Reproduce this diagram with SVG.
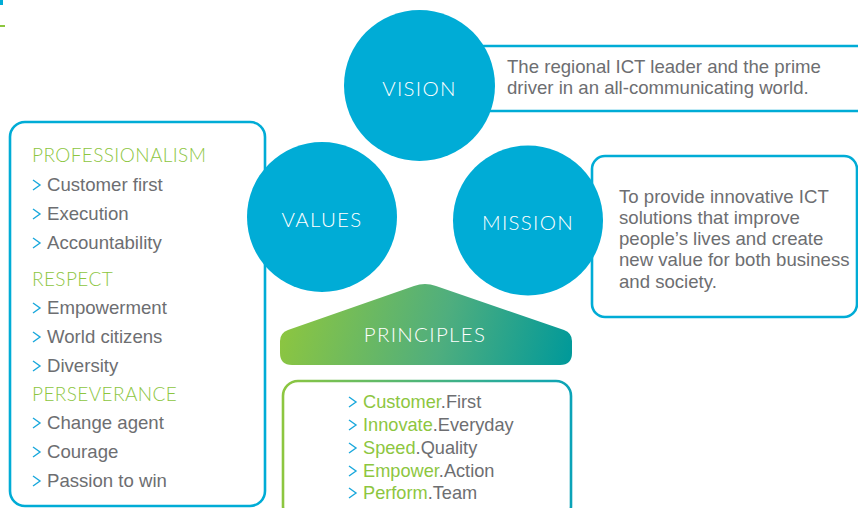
<svg xmlns="http://www.w3.org/2000/svg" width="858" height="508" viewBox="0 0 858 508">
  <defs>
    <linearGradient id="roofGrad" gradientUnits="userSpaceOnUse" x1="285" y1="300" x2="570" y2="368">
      <stop offset="0" stop-color="#8dc63f"/>
      <stop offset="0.55" stop-color="#4fae7e"/>
      <stop offset="1" stop-color="#00999a"/>
    </linearGradient>
    <linearGradient id="frameGrad" gradientUnits="userSpaceOnUse" x1="282" y1="0" x2="572" y2="0">
      <stop offset="0" stop-color="#8dc63f"/>
      <stop offset="1" stop-color="#0aa3b8"/>
    </linearGradient>
    <style>
      .circle { fill: #00acd6; }
      .frame { fill: #ffffff; stroke: #00acd6; stroke-width: 2.6; }
      .label { font-family: Lato, "Open Sans", sans-serif; font-weight: 300; font-size: 20.5px; fill: #ffffff; text-anchor: middle; letter-spacing: 1.3px; }
      .body { font-family: "Liberation Sans", Arial, sans-serif; font-size: 18.6px; fill: #6d6e71; }
      .list { font-size: 18.2px; }
      .head { font-family: Lato, "Open Sans", sans-serif; font-weight: 300; font-size: 19px; fill: #8dc63f; letter-spacing: 0.4px; }
      .chev { fill: none; stroke: #1aa8dc; stroke-width: 1.4; }
      .green { fill: #8dc63f; }
    </style>
    <path id="chevron" class="chev" d="M0,-11 L7,-6 L0,-1"/>
  </defs>

  <!-- corner marks -->
  <rect x="0" y="0" width="3" height="5" fill="#00acd6"/>
  <rect x="0" y="25" width="5" height="2" fill="#8dc63f"/>

  <!-- description frames (drawn under the circles) -->
  <g id="vision-text">
    <rect class="frame" x="470" y="46" width="420" height="65" rx="12"/>
    <text class="body" x="507" y="73">The regional ICT leader and the prime</text>
    <text class="body" x="507" y="94">driver in an all-communicating world.</text>
  </g>

  <g id="mission-text">
    <rect class="frame" x="592" y="156" width="265" height="161" rx="13"/>
    <text class="body" x="619" y="203">To provide innovative ICT</text>
    <text class="body" x="619" y="224">solutions that improve</text>
    <text class="body" x="619" y="245">people’s lives and create</text>
    <text class="body" x="619" y="266">new value for both business</text>
    <text class="body" x="619" y="288">and society.</text>
  </g>

  <g id="values-list">
    <rect class="frame" x="10" y="122" width="255" height="384" rx="15"/>
    <text class="head" x="32" y="162">PROFESSIONALISM</text>
    <use href="#chevron" x="33" y="191"/><text class="body" x="47" y="191">Customer first</text>
    <use href="#chevron" x="33" y="220"/><text class="body" x="47" y="220">Execution</text>
    <use href="#chevron" x="33" y="249"/><text class="body" x="47" y="249">Accountability</text>
    <text class="head" x="32" y="286">RESPECT</text>
    <use href="#chevron" x="33" y="314"/><text class="body" x="47" y="314">Empowerment</text>
    <use href="#chevron" x="33" y="343"/><text class="body" x="47" y="343">World citizens</text>
    <use href="#chevron" x="33" y="372"/><text class="body" x="47" y="372">Diversity</text>
    <text class="head" x="32" y="401">PERSEVERANCE</text>
    <use href="#chevron" x="33" y="429"/><text class="body" x="47" y="429">Change agent</text>
    <use href="#chevron" x="33" y="458"/><text class="body" x="47" y="458">Courage</text>
    <use href="#chevron" x="33" y="487"/><text class="body" x="47" y="487">Passion to win</text>
  </g>

  <!-- circles -->
  <g id="vision">
    <circle class="circle" cx="419.5" cy="85.5" r="75.5"/>
    <text class="label" x="419.5" y="96">VISION</text>
  </g>
  <g id="values">
    <circle class="circle" cx="322" cy="217" r="75"/>
    <text class="label" x="322" y="227">VALUES</text>
  </g>
  <g id="mission">
    <circle class="circle" cx="528" cy="220.5" r="75"/>
    <text class="label" x="528" y="230">MISSION</text>
  </g>

  <!-- principles roof and list -->
  <g id="principles">
    <path fill="url(#roofGrad)" d="M292,365 Q280,365 280,353 L280,341 Q280,333 288,330 L414,286 Q425,282 436,286 L564,330 Q572,333 572,341 L572,353 Q572,365 560,365 Z"/>
    <text class="label" x="425" y="342">PRINCIPLES</text>
  </g>

  <g id="principles-list">
    <rect x="283" y="381" width="288" height="140" rx="15" fill="#ffffff" stroke="url(#frameGrad)" stroke-width="2.6"/>
    <use href="#chevron" x="349" y="408"/><text class="body list" x="363" y="408"><tspan class="green">Customer</tspan>.First</text>
    <use href="#chevron" x="349" y="431"/><text class="body list" x="363" y="431"><tspan class="green">Innovate</tspan>.Everyday</text>
    <use href="#chevron" x="349" y="454"/><text class="body list" x="363" y="454"><tspan class="green">Speed</tspan>.Quality</text>
    <use href="#chevron" x="349" y="477"/><text class="body list" x="363" y="477"><tspan class="green">Empower</tspan>.Action</text>
    <use href="#chevron" x="349" y="499"/><text class="body list" x="363" y="499"><tspan class="green">Perform</tspan>.Team</text>
  </g>
</svg>
